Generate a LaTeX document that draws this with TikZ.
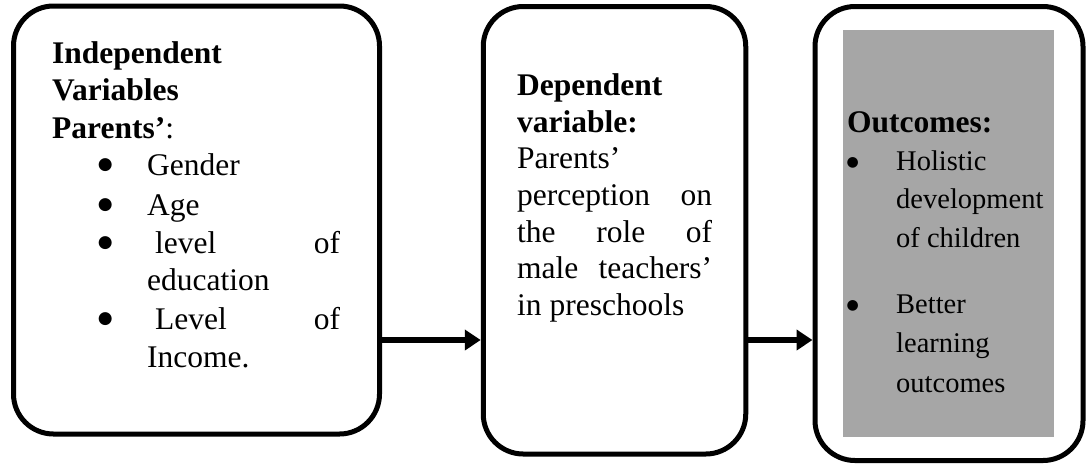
\documentclass[tikz,border=0pt]{standalone}
\usepackage{fontspec}
\setmainfont{Liberation Serif}
\newfontfamily\bulfont{DejaVu Sans}
\usetikzlibrary{arrows.meta}
\definecolor{shade}{HTML}{A6A6A6}
\begin{document}
\begin{tikzpicture}[x=1pt,y=-1pt,
  roundbox/.style={draw, line width=5pt, rounded corners=40pt, inner sep=0pt, fill=white},
  shadebox/.style={fill=shade, inner sep=0pt},
  txt/.style={anchor=base west, inner sep=0pt, font=\fontsize{31.5}{37}\selectfont},
  btxt/.style={txt, font=\fontsize{31.5}{37}\selectfont\bfseries},
  stxt/.style={anchor=base west, inner sep=0pt, font=\fontsize{28.5}{38}\selectfont},
  bul/.style={anchor=base west, inner sep=0pt, font=\bulfont\fontsize{17}{17}\selectfont},
  sbul/.style={anchor=base west, inner sep=0pt, font=\bulfont\fontsize{14}{14}\selectfont},
  flow/.style={line width=6pt, -{Triangle[length=16pt,width=20pt]}}
]
\useasboundingbox (0,0) rectangle (1086,464);
% boxes
\node[roundbox, minimum width=366pt, minimum height=428pt] (b1) at (196.5,220) {};
\node[roundbox, minimum width=262.5pt, minimum height=447.5pt] (b2) at (614.5,230.25) {};
\node[roundbox, minimum width=268pt, minimum height=454pt] (b3) at (949,233.5) {};
\node[shadebox, minimum width=211pt, minimum height=407pt] (g3) at (948.5,233.5) {};
% box 1 text
\node[btxt] (t1a) at (52,63) {Independent};
\node[btxt] (t1b) at (52,100) {Variables};
\node[txt] (t1c) at (52,138) {\textbf{Parents’}:};
\node[bul] (u1a) at (97.7,169.8) {●};
\node[txt] (t1d) at (147,175) {Gender};
\node[bul] (u1b) at (97.7,209.8) {●};
\node[txt] (t1e) at (147,215) {Age};
\node[bul] (u1c) at (97.7,247.8) {●};
\node[txt] (t1f) at (147,253) {\hbox to 193pt{\hspace{8pt}level\hfill of}};
\node[txt] (t1g) at (147,290) {education};
\node[bul] (u1d) at (97.7,323.8) {●};
\node[txt] (t1h) at (147,329) {\hbox to 193pt{\hspace{8pt}Level\hfill of}};
\node[txt] (t1i) at (147,367) {Income.};
% box 2 text
\node[btxt] (t2a) at (517,95) {Dependent};
\node[btxt] (t2b) at (517,132) {variable:};
\node[txt] (t2c) at (517,168) {Parents’};
\node[txt] (t2d) at (517,205) {\hbox to 195pt{perception\hfill on}};
\node[txt] (t2e) at (517,242) {\hbox to 195pt{the\hfill role\hfill of}};
\node[txt] (t2f) at (517,278) {\hbox to 195pt{male\hfill teachers’}};
\node[txt] (t2g) at (517,315) {in preschools};
% box 3 text
\node[btxt] (t3a) at (847,132) {Outcomes:};
\node[sbul] (u3a) at (846.4,166.5) {●};
\node[stxt] (t3b) at (896,170) {Holistic};
\node[stxt] (t3c) at (896,208) {development};
\node[stxt] (t3d) at (896,247) {of children};
\node[sbul] (u3b) at (846.4,309.5) {●};
\node[stxt] (t3e) at (896,313) {Better};
\node[stxt] (t3f) at (896,352) {learning};
\node[stxt] (t3g) at (896,392) {outcomes};
% connectors
\coordinate (lev) at (0,340);
\draw[flow] (b1.east |- lev) -- (b2.west |- lev);
\draw[flow] (b2.east |- lev) -- (b3.west |- lev);
\end{tikzpicture}
\end{document}
